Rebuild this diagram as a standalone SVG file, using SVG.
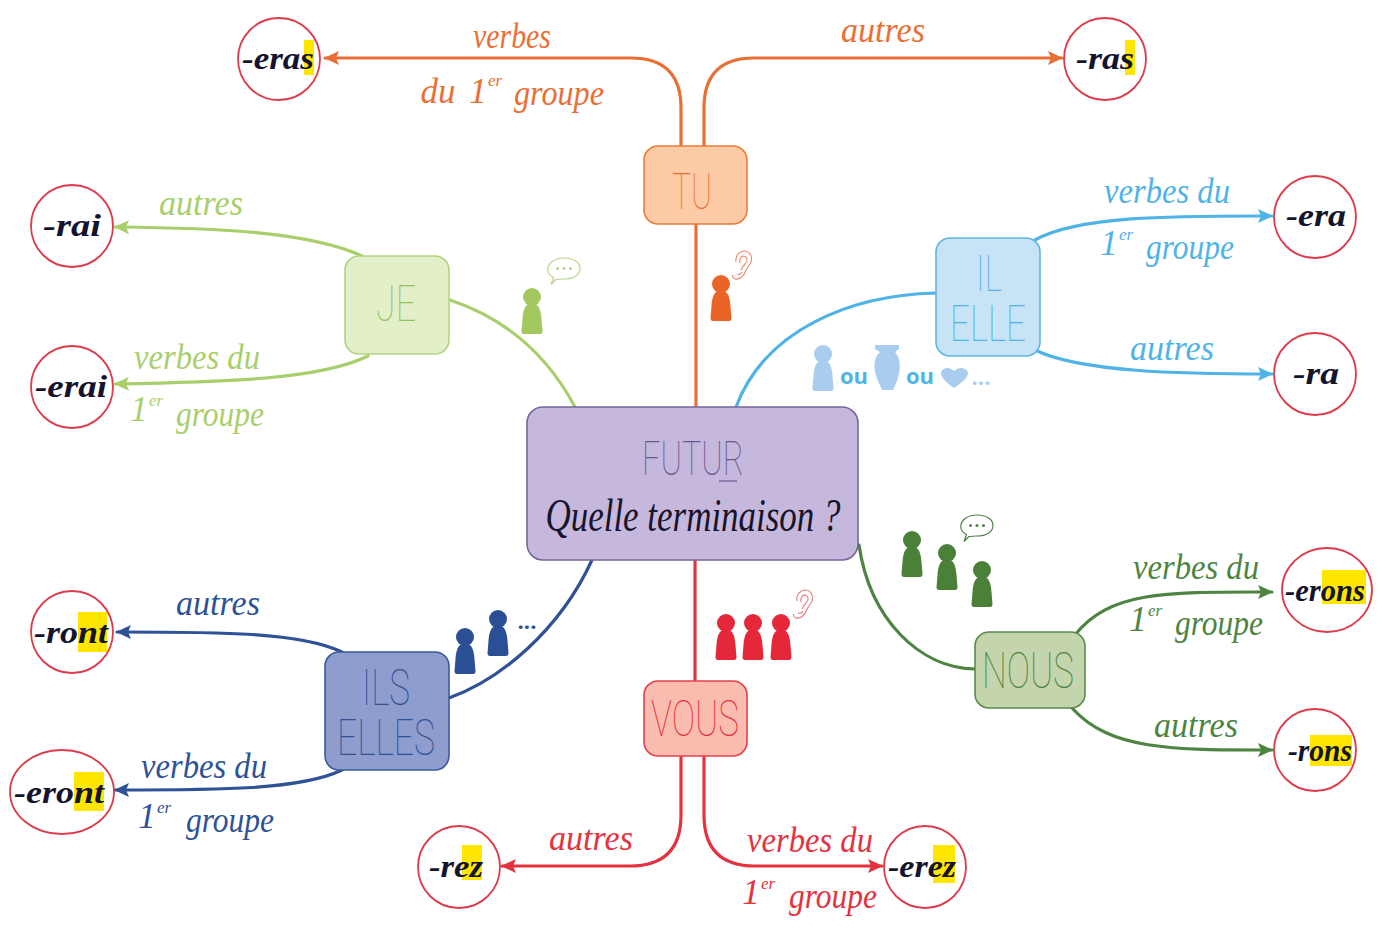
<svg xmlns="http://www.w3.org/2000/svg" width="1386" height="931" viewBox="0 0 1386 931">
<style>
.bg{fill:#fff}
.w{fill:none;stroke-width:3.2;stroke-linecap:round}
.node{stroke-width:1.6}
.caps{font-family:Roboto,"Liberation Sans",sans-serif;font-weight:100;text-anchor:middle}
.sc{font-family:"Liberation Serif",serif;font-style:italic;text-anchor:middle}
.end{font-family:"Liberation Serif",serif;font-style:italic;font-weight:700;font-size:32px;fill:#14142e;text-anchor:middle}
.ring{fill:#fff;stroke:#dd3b4a;stroke-width:1.8}
.hl{fill:#ffe600}
.or{stroke:#ea6f35}.orf{fill:#ea6f35}
.lg{stroke:#a9cf6c}.lgf{fill:#a9cf6c}
.bl{stroke:#4fb3e6}.blf{fill:#4fb3e6}
.dg{stroke:#4e8442}.dgf{fill:#4e8442}
.rd{stroke:#e4323f}.rdf{fill:#e4323f}
.nv{stroke:#2f5296}.nvf{fill:#2f5296}
.lbl{font-size:35px}
.sup{font-size:17px}
.pic{font-family:"Open Sans",sans-serif;font-weight:700;font-size:22px;text-anchor:middle}
</style>
<defs>
<marker id="a-or" markerUnits="userSpaceOnUse" markerWidth="16" markerHeight="14" refX="14" refY="7" orient="auto"><path d="M0 0L15 7L0 14L3 7Z" fill="#ea6f35"/></marker>
<marker id="a-lg" markerUnits="userSpaceOnUse" markerWidth="16" markerHeight="14" refX="14" refY="7" orient="auto"><path d="M0 0L15 7L0 14L3 7Z" fill="#a9cf6c"/></marker>
<marker id="a-bl" markerUnits="userSpaceOnUse" markerWidth="16" markerHeight="14" refX="14" refY="7" orient="auto"><path d="M0 0L15 7L0 14L3 7Z" fill="#4fb3e6"/></marker>
<marker id="a-dg" markerUnits="userSpaceOnUse" markerWidth="16" markerHeight="14" refX="14" refY="7" orient="auto"><path d="M0 0L15 7L0 14L3 7Z" fill="#4e8442"/></marker>
<marker id="a-rd" markerUnits="userSpaceOnUse" markerWidth="16" markerHeight="14" refX="14" refY="7" orient="auto"><path d="M0 0L15 7L0 14L3 7Z" fill="#e4323f"/></marker>
<marker id="a-nv" markerUnits="userSpaceOnUse" markerWidth="16" markerHeight="14" refX="14" refY="7" orient="auto"><path d="M0 0L15 7L0 14L3 7Z" fill="#2f5296"/></marker>
<symbol id="p" viewBox="0 0 22 46" overflow="visible"><circle cx="11" cy="9" r="9"/><path d="M11 15C4 15 2 23 1.500 31L0.500 43Q0.500 46 3 46H19Q21.500 46 21.500 43L20.500 31C20 23 18 15 11 15Z"/></symbol>
<symbol id="bub" viewBox="0 0 34 28" overflow="visible"><path d="M9 22.500L4 27.500L6.500 20.500C2.500 18.500 .8 15.500 .8 12.500C.8 6 8 1 17 1S33 5 33 11.500S26 22 17 22C14 22 11.500 22.500 9 22.500Z" fill="#fff" stroke-width="1.200"/><circle cx="10.500" cy="11.500" r="1.500" stroke="none"/><circle cx="17" cy="11.500" r="1.500" stroke="none"/><circle cx="23.500" cy="11.500" r="1.500" stroke="none"/></symbol>
<symbol id="ear" viewBox="0 0 20 30" overflow="visible"><path d="M4 12C3 5 8 1 12.500 1C17 1 20 5 19.500 10C19 15 15 17 13.500 21C12 26 8 30 3 29C1 28.500 0 26.500 1 25M8 13C7 8 10 5 13 6.500C16 8 15.500 12 13 14C11 16 10 18 9 20M5 24C7 25 9 24 10 22" fill="none" stroke-width="1.100"/></symbol>
</defs>
<rect class="bg" width="1386" height="931"/>
<g id="connectors">
<path class="w or" d="M696 224V407"/>
<path class="w or" d="M681 146V108Q681 58 631 58H325" marker-end="url(#a-or)"/>
<path class="w or" d="M704 146V108Q704 58 754 58H1062" marker-end="url(#a-or)"/>
<path class="w lg" d="M450 300C510 320 550 360 575 407"/>
<path class="w lg" d="M362 256C310 232 220 228 115 227" marker-end="url(#a-lg)"/>
<path class="w lg" d="M368 356C320 380 220 382 115 384" marker-end="url(#a-lg)"/>
<path class="w bl" d="M936 293C850 295 765 330 736 407"/>
<path class="w bl" d="M1035 240C1080 215 1180 216 1272 216" marker-end="url(#a-bl)"/>
<path class="w bl" d="M1035 350C1080 372 1180 374 1272 374" marker-end="url(#a-bl)"/>
<path class="w dg" d="M859 545C870 620 920 668 975 669"/>
<path class="w dg" d="M1075 635C1110 590 1170 592 1272 592" marker-end="url(#a-dg)"/>
<path class="w dg" d="M1072 708C1110 750 1170 750 1272 750" marker-end="url(#a-dg)"/>
<path class="w rd" d="M695 560V681"/>
<path class="w rd" d="M681 756V815Q681 866 630 866H502" marker-end="url(#a-rd)"/>
<path class="w rd" d="M704 756V815Q704 866 755 866H882" marker-end="url(#a-rd)"/>
<path class="w nv" d="M592 560C560 630 500 680 449 698"/>
<path class="w nv" d="M342 652C300 632 220 632 117 632" marker-end="url(#a-nv)"/>
<path class="w nv" d="M342 770C300 790 220 790 115 790" marker-end="url(#a-nv)"/>
</g>
<g id="futur"><rect class="node" x="527" y="407" width="331" height="153" rx="16" fill="#c5b8dc" stroke="#75659c"/>
<text class="caps" x="693" y="475" font-size="48" fill="#66588e" textLength="102" lengthAdjust="spacingAndGlyphs">FUTUR</text><path d="M719 481H737" stroke="#66588e" stroke-width="1.200"/>
<text class="sc" x="693" y="531" font-size="46" fill="#17132b" textLength="295" lengthAdjust="spacingAndGlyphs">Quelle terminaison ?</text></g>
<g id="tu"><rect class="node" x="644" y="146" width="103" height="78" rx="14" fill="#fdcba6" stroke="#ee7b3a"/><text class="caps" x="692" y="209" font-size="50" fill="#ea6f35" textLength="40" lengthAdjust="spacingAndGlyphs">TU</text></g>
<g id="je"><rect class="node" x="345" y="256" width="104" height="98" rx="14" fill="#e2efc8" stroke="#b3d383"/><text class="caps" x="396" y="321" font-size="50" fill="#94c25a" textLength="40" lengthAdjust="spacingAndGlyphs">JE</text></g>
<g id="il-elle"><rect class="node" x="936" y="238" width="104" height="118" rx="14" fill="#c8e2f6" stroke="#5db7e6"/><text class="caps" x="989" y="291" font-size="50" fill="#4fb3e6" textLength="26" lengthAdjust="spacingAndGlyphs">IL</text><text class="caps" x="988" y="341" font-size="50" fill="#4fb3e6" textLength="76" lengthAdjust="spacingAndGlyphs">ELLE</text></g>
<g id="nous"><rect class="node" x="975" y="632" width="110" height="76" rx="14" fill="#c4d5ae" stroke="#5a8a4a"/><text class="caps" x="1028" y="688" font-size="50" fill="#4e8442" textLength="92" lengthAdjust="spacingAndGlyphs">NOUS</text></g>
<g id="vous"><rect class="node" x="644" y="681" width="103" height="75" rx="14" fill="#f9bcae" stroke="#e5404a"/><text class="caps" x="695" y="736" font-size="50" fill="#e4323f" textLength="88" lengthAdjust="spacingAndGlyphs">VOUS</text></g>
<g id="ils-elles"><rect class="node" x="325" y="652" width="124" height="118" rx="14" fill="#8e9dcd" stroke="#3b5a9c"/><text class="caps" x="386" y="705" font-size="50" fill="#2f5296" textLength="48" lengthAdjust="spacingAndGlyphs">ILS</text><text class="caps" x="386" y="755" font-size="50" fill="#2f5296" textLength="98" lengthAdjust="spacingAndGlyphs">ELLES</text></g>
<g id="e-eras"><circle class="ring" cx="279" cy="59" r="41"/><rect class="hl" x="304" y="40" width="10" height="35"/><text class="end" x="278" y="69" textLength="72" lengthAdjust="spacingAndGlyphs">-eras</text></g>
<g id="e-ras"><circle class="ring" cx="1105" cy="59" r="41"/><rect class="hl" x="1125" y="40" width="10" height="35"/><text class="end" x="1105" y="69" textLength="58" lengthAdjust="spacingAndGlyphs">-ras</text></g>
<g id="e-rai"><circle class="ring" cx="72" cy="226" r="41"/><text class="end" x="72" y="236" textLength="58" lengthAdjust="spacingAndGlyphs">-rai</text></g>
<g id="e-erai"><circle class="ring" cx="72" cy="387" r="41"/><text class="end" x="71" y="397" textLength="72" lengthAdjust="spacingAndGlyphs">-erai</text></g>
<g id="e-era"><circle class="ring" cx="1315" cy="217" r="41"/><text class="end" x="1316" y="226" textLength="60" lengthAdjust="spacingAndGlyphs">-era</text></g>
<g id="e-ra"><circle class="ring" cx="1315" cy="374" r="41"/><text class="end" x="1316" y="384" textLength="46" lengthAdjust="spacingAndGlyphs">-ra</text></g>
<g id="e-erons"><ellipse class="ring" cx="1327" cy="590" rx="45" ry="42"/><rect class="hl" x="1322" y="570" width="44" height="34"/><text class="end" x="1325" y="601" textLength="80" lengthAdjust="spacingAndGlyphs">-erons</text></g>
<g id="e-rons"><circle class="ring" cx="1315" cy="750" r="41"/><rect class="hl" x="1310" y="735" width="42" height="31"/><text class="end" x="1320" y="761" textLength="64" lengthAdjust="spacingAndGlyphs">-rons</text></g>
<g id="e-ront"><circle class="ring" cx="72" cy="632" r="41"/><rect class="hl" x="78" y="612" width="29" height="40"/><text class="end" x="71" y="643" textLength="74" lengthAdjust="spacingAndGlyphs">-ront</text></g>
<g id="e-eront"><ellipse class="ring" cx="62" cy="792" rx="52" ry="42"/><rect class="hl" x="74" y="772" width="30" height="39"/><text class="end" x="59" y="803" textLength="90" lengthAdjust="spacingAndGlyphs">-eront</text></g>
<g id="e-rez"><circle class="ring" cx="459" cy="867" r="41"/><rect class="hl" x="462" y="845" width="20" height="35"/><text class="end" x="456" y="877" textLength="54" lengthAdjust="spacingAndGlyphs">-rez</text></g>
<g id="e-erez"><circle class="ring" cx="925" cy="867" r="41"/><rect class="hl" x="933" y="845" width="22" height="38"/><text class="end" x="922" y="877" textLength="68" lengthAdjust="spacingAndGlyphs">-erez</text></g>
<g id="labels" class="sc lbl">
<text class="orf" x="512" y="48" textLength="78" lengthAdjust="spacingAndGlyphs">verbes</text>
<text class="orf" x="438" y="103">du</text><text class="orf" x="478" y="103">1</text><text class="orf sup" x="495" y="86">er</text><text class="orf" x="559" y="105" textLength="90" lengthAdjust="spacingAndGlyphs">groupe</text>
<text class="orf" x="883" y="42" textLength="84" lengthAdjust="spacingAndGlyphs">autres</text>
<text class="lgf" x="201" y="215" textLength="84" lengthAdjust="spacingAndGlyphs">autres</text>
<text class="lgf" x="197" y="369" textLength="126" lengthAdjust="spacingAndGlyphs">verbes du</text>
<text class="lgf" x="139" y="421">1</text><text class="lgf sup" x="156" y="406">er</text><text class="lgf" x="220" y="426" textLength="88" lengthAdjust="spacingAndGlyphs">groupe</text>
<text class="blf" x="1167" y="203" textLength="126" lengthAdjust="spacingAndGlyphs">verbes du</text>
<text class="blf" x="1109" y="255">1</text><text class="blf sup" x="1126" y="240">er</text><text class="blf" x="1190" y="259" textLength="88" lengthAdjust="spacingAndGlyphs">groupe</text>
<text class="blf" x="1172" y="360" textLength="84" lengthAdjust="spacingAndGlyphs">autres</text>
<text class="dgf" x="1196" y="579" textLength="126" lengthAdjust="spacingAndGlyphs">verbes du</text>
<text class="dgf" x="1138" y="631">1</text><text class="dgf sup" x="1155" y="616">er</text><text class="dgf" x="1219" y="635" textLength="88" lengthAdjust="spacingAndGlyphs">groupe</text>
<text class="dgf" x="1196" y="737" textLength="84" lengthAdjust="spacingAndGlyphs">autres</text>
<text class="rdf" x="591" y="850" textLength="84" lengthAdjust="spacingAndGlyphs">autres</text>
<text class="rdf" x="810" y="852" textLength="126" lengthAdjust="spacingAndGlyphs">verbes du</text>
<text class="rdf" x="751" y="904">1</text><text class="rdf sup" x="768" y="889">er</text><text class="rdf" x="833" y="908" textLength="88" lengthAdjust="spacingAndGlyphs">groupe</text>
<text class="nvf" x="218" y="615" textLength="84" lengthAdjust="spacingAndGlyphs">autres</text>
<text class="nvf" x="204" y="778" textLength="126" lengthAdjust="spacingAndGlyphs">verbes du</text>
<text class="nvf" x="147" y="828">1</text><text class="nvf sup" x="164" y="813">er</text><text class="nvf" x="230" y="832" textLength="88" lengthAdjust="spacingAndGlyphs">groupe</text>
</g>
<g id="pic-je" fill="#a3c85f"><use href="#p" x="521" y="288" width="22" height="46"/><g stroke="#b9d58d" fill="#b9d58d"><use href="#bub" x="547" y="257" width="34" height="28"/></g></g>
<g id="pic-tu" fill="#ea6428"><use href="#p" x="710" y="275" width="22" height="46"/><g stroke="#ea8a6a"><use href="#ear" x="732" y="250" width="20" height="30"/></g></g>
<g id="pic-il" fill="#a9cdee"><use href="#p" x="812" y="345" width="22" height="46"/><path d="M875 345H899V349L895 352C901 358 901 370 897 381L893 390H882L878 381C873 370 873 358 880 352L875 349Z"/><path d="M954 388C948 384 941 378 941 373C941 369 948 365 954 371C960 365 968 369 968 373C968 378 960 384 954 388Z"/><text class="pic" x="854" y="384" fill="#4fb3e6">ou</text><text class="pic" x="920" y="384" fill="#4fb3e6">ou</text><text class="pic" x="981" y="385">...</text></g>
<g id="pic-nous" fill="#4a8038"><use href="#p" x="901" y="531" width="22" height="46"/><use href="#p" x="936" y="544" width="22" height="46"/><use href="#p" x="971" y="561" width="22" height="46"/><g stroke="#4e8442" fill="#4e8442"><use href="#bub" x="960" y="514" width="34" height="28"/></g></g>
<g id="pic-vous" fill="#e4283a"><use href="#p" x="715" y="614" width="22" height="46"/><use href="#p" x="742" y="614" width="22" height="46"/><use href="#p" x="770" y="614" width="22" height="46"/><g stroke="#ea7a80"><use href="#ear" x="793" y="589" width="20" height="30"/></g></g>
<g id="pic-ils" fill="#2a4f94"><use href="#p" x="454" y="628" width="22" height="46"/><use href="#p" x="487" y="610" width="22" height="46"/><text class="pic" x="527" y="629">...</text></g>
</svg>
